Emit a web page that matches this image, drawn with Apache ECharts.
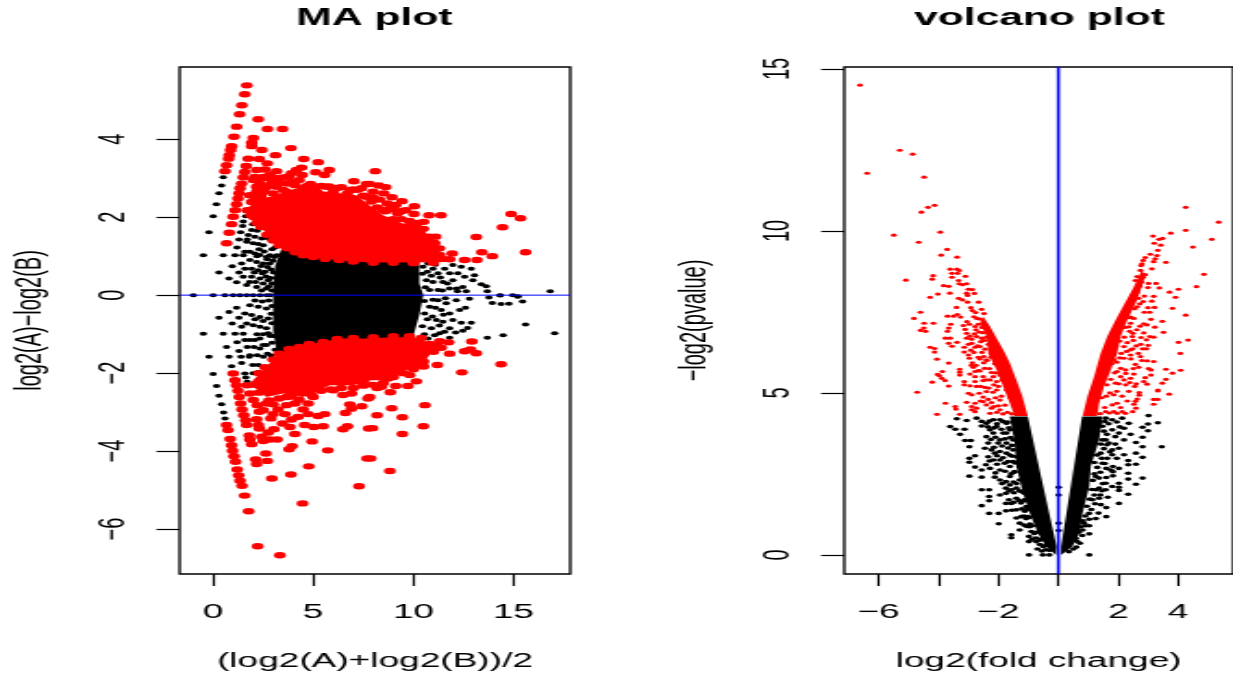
<!DOCTYPE html>
<html>
<head>
<meta charset="utf-8">
<title>MA plot and volcano plot</title>
<script src="https://cdn.jsdelivr.net/npm/echarts@6/dist/echarts.min.js"></script>
<style>
html,body{margin:0;padding:0;background:#fff;width:1233px;height:677px;overflow:hidden}
#stage{width:666px;height:677px;transform:scaleX(1.8514);transform-origin:0 0}
</style>
</head>
<body>
<div id="stage"></div>
<script>
const maXTicks=[0,5,10,15];
const maYTicks=[-6,-4,-2,0,2,4];
const vXTicks=[-6,-4,-2,0,2,4];
const vXLabels=[-6,-2,2,4];
const vYTicks=[0,5,10,15];
const maTitle='MA plot', vTitle='volcano plot';
const maXName='(log2(A)+log2(B))/2', maYName='log2(A)\u2212log2(B)';
const vXName='log2(fold change)', vYName='\u2212log2(pvalue)';

// dense cores, read as outlines
const maBlackCore=[[3.0,0.15],[3.1,.75],[3.5,1.3],[7.8,.9],[10.3,.9],[10.3,.3],[10.5,0],[10.3,-.5],[10,-1.05],[9,-1.2],[7.8,-1.15],[5.3,-1.25],[3.7,-1.45],[3.2,-1.55],[3.0,-.9],[3.0,-.15]];
const maRedTop=[[1.84,1.97],[1.84,2.26],[2.01,2.44],[2.84,2.52],[4.17,2.74],[5.66,2.65],[7.16,2.56],[7.82,2.3],[8.49,2.05],[9.48,1.84],[10.31,1.84],[10.65,1.58],[11.15,1.33],[11.4,1.03],[11.97,.94],[11.81,.85],[9.48,.84],[7.82,.84],[6.83,.87],[5.83,.92],[4.83,.98],[4,1.11],[3.5,1.28],[2.84,1.49],[2.43,1.71]];
const maRedBottom=[[1.93,-2.22],[2.67,-1.84],[3.17,-1.54],[3.67,-1.41],[4.5,-1.33],[5.33,-1.2],[6.49,-1.11],[7.82,-1.11],[8.82,-1.08],[9.98,-1.08],[10.48,-1.15],[11.06,-1.33],[10.81,-1.54],[10.31,-1.84],[9.65,-1.92],[8.65,-2.18],[7.82,-2.18],[7.82,-2.26],[6.83,-2.31],[5.83,-2.31],[5.17,-2.48],[4.5,-2.61],[3.5,-2.52],[2.67,-2.61],[1.93,-2.31]];
const vBlackLeft=[[-1.02,4.27],[-.06,.26],[-.08,0],[-.41,.26],[-.68,.67],[-.91,1.18],[-1.18,1.9],[-1.4,2.73],[-1.46,3.45],[-1.62,4.27]];
const vBlackRight=[[.79,4.27],[.09,.26],[.09,0],[.47,.26],[.7,.67],[.81,1.29],[1.03,2.11],[1.08,2.73],[1.36,3.55],[1.47,4.27]];
const vRedLeft=[[-1.02,4.29],[-1.2,4.89],[-1.4,5.4],[-1.62,5.92],[-1.84,6.33],[-2.06,6.69],[-2.28,7.05],[-2.51,7.36],[-2.62,7.15],[-2.39,6.74],[-2.34,6.22],[-2.06,5.71],[-1.84,5.19],[-1.62,4.68],[-1.46,4.29]];
const vRedRight=[[.81,4.29],[.97,4.89],[1.19,5.5],[1.41,6.22],[1.63,6.74],[1.91,7.25],[2.19,7.72],[2.52,8.28],[2.79,8.8],[2.9,8.59],[2.63,7.87],[2.3,7.25],[2.08,6.74],[1.96,6.22],[1.75,5.71],[1.52,5.19],[1.36,4.68],[1.3,4.29]];

const maBlack=[[.51,3.02],[.43,2.81],[.3,2.61],[.17,2.33],[.01,2.02],[-.2,1.61],[-.48,1.02],[.51,1.02],[1.1,1.02],[1.51,1.02],[.3,.58],[.8,.43],[.96,.74],[1.3,.58],[1.43,.81],[1.18,.33],[1.2,1.22],[1.3,1.43],[1.38,1.61],[1.48,1.77],[1.51,1.89],[1.63,2.02],[1.71,1.43],
[1.59,1.11],[1.84,1.11],[2.09,1.07],[2.34,1.03],[2.67,.98],[1.68,1.37],[2.01,1.33],[2.26,1.31],[2.51,1.28],[1.76,1.54],[2.09,1.5],[2.43,1.45],[2.76,1.45],[1.93,1.67],[2.21,1.65],[1.98,1.82],[2.26,1.79],[1.84,.9],[2.18,.85],[2.51,.81],[2.84,.81],[1.59,.68],[1.93,.68],[2.26,.64],[2.59,.6],[1.51,.47],[1.93,.47],[2.34,.43],[2.76,.38],[1.68,.26],[2.18,.21],[2.67,.17],
[2.95,1.18],[3.1,1.22],[2.85,1.02],[3.05,.98],[3.2,1.02],[2.7,.92],[3,.88],[2.72,.72],[2.9,.66],[3.02,.58],[2.46,.56],[2.65,.48],[2.88,.44],[2.95,.3],[2.5,.3],[2.78,.22],[2.95,.12],[2.42,.12],[2.12,.34],[1.82,.34],[2.06,.58],[2.4,.75],[2.2,1],[2.55,1.12],[2.3,1.18],
[-.98,0],[.01,0],[.6,0],[1.01,0],[1.35,0],[1.68,0],[2.01,0],[2.34,0],[2.67,0],[2.85,0],
[10.48,.73],[10.73,.81],[10.98,.68],[11.23,.56],[11.56,.68],[11.97,.77],[12.39,.73],[12.89,.68],[11.81,.56],[12.22,.56],[12.56,.47],[13.05,.51],[12.97,.38],[11.97,.38],[11.47,.34],[10.98,.34],[10.65,.38],[12.47,.21],[11.81,.17],[11.23,.13],[10.81,.13],[13.64,.23],[13.39,.28],[13.69,.1],[12.17,.17],[16.83,.1],[14.33,0],[14.96,0],[15.21,-.03],[13.77,-.06],[12.64,.1],[12.2,.1],[14.33,-.01],[15.21,-.04],[13.94,-.2],[14.38,-.23],[14.77,-.22],[15.45,-.16],[15.6,-.75],[17.05,-.98],[14.48,-1.03],[13.69,-1.09],[12.89,-.71],[12.8,-.09],[12.6,-.32],[12.31,-.38],[11.97,-.64],[12.39,-.71],[12.71,-.84],[12.47,-.91],[12.11,-.96],[11.81,-.85],[11.81,-1.09],[11.47,-.68],[11.56,-.94],[11.15,-.64],[10.9,-.85],[10.73,-1.11],[10.56,-.47],[10.81,-.3],[11.23,-.13],[11.64,-.21],[12.14,-.13],[11.39,-.38],[11.81,-.47],[11.06,-1.03],[11.31,-.98],
[10.45,.55],[10.6,.2],[10.7,.6],[10.9,.5],[11.1,.78],[11.35,.45],[11.7,.3],[10.55,-.15],[10.7,-.62],[10.45,-.8],[10.55,-1],[10.95,-.55],[11.1,-.32],[11.5,-.5],[11.3,-.78],[10.98,-.12],[11.45,.12],[11.6,-.08],
[.3,-.58],[.8,-.43],[1.3,-.58],[.96,-.73],[1.43,-.81],[1.18,-.32],[-.48,-.99],[.51,-.99],[1.1,-.99],[1.51,-.99],[.68,-1.33],[-.2,-1.58],[.8,-1.58],[1.4,-1.58],[1.81,-1.58],[.01,-2.02],[.18,-2.33],[.3,-2.58],[.43,-2.8],[.53,-3.01],[.6,-3.16],[.93,-1.82],[1.2,-1.21],[1.3,-1.43],[1.43,-1.74],[1.59,-2.01],[1.64,-2.11],[1.71,-2.22],[1.59,-1.15],[1.84,-1.15],[2.09,-1.15],[2.34,-1.11],[1.71,-1.33],[2.04,-1.33],[2.34,-1.37],[2.67,-1.28],[1.84,-1.54],[2.21,-1.54],[2.51,-1.58],[1.98,-1.79],[2.26,-1.79],[2.51,-1.84],[2,-2],[2.26,-1.97],[1.68,-.73],[2.01,-.77],[2.34,-.81],[2.67,-.85],[1.59,-.47],[1.93,-.51],[2.34,-.56],[2.76,-.6],[1.84,-.26],[2.26,-.3],[2.67,-.34],
[2.95,-1.22],[3.1,-1.4],[2.85,-1.05],[3.02,-1.05],[2.72,-1.5],[2.9,-1.55],[2.5,-1],[2.76,-.98],[2.95,-.72],[2.9,-.48],[2.5,-.66],[2.2,-1],[2.95,-.28],[2.46,-.16],[2.1,-.14],[2.78,-.14],[2.5,-1.28],[2.1,-.62]];

const maRed=[[1.69,5.38],[1.59,5.15],[1.44,4.87],[1.33,4.64],[1.18,4.32],[1.05,4.06],[.93,3.82],[.88,3.72],[.81,3.59],[.78,3.5],[.68,3.33],[.6,3.18],
[1.76,3.5],[1.66,3.31],[1.59,3.16],[1.51,3.02],[1.43,2.86],[1.35,2.74],[1.3,2.61],[1.25,2.48],[1.18,2.33],[1.11,2.18],[1.01,2.01],[.93,1.82],[.81,1.6],[.68,1.33],
[2.26,4.51],[2.72,4.26],[3.47,4.26],[2.01,4.03],[1.93,3.91],[1.93,3.82],[2.44,3.72],[3.89,3.77],[3.12,3.59],[2.31,3.49],[2.71,3.38],[4.53,3.49],[5.25,3.41],[3.17,3.18],[5.8,3.21],[5.13,3.15],[5.57,3.08],[4.42,3.27],[4.17,3.21],[3.92,3.13],[4.45,3.08],[2.18,3.21],[2.59,3.22],[3.5,3.02],[7.03,2.92],[4.87,2.85],[7.66,2.85],[6.41,2.77],[5.8,2.79],[6.99,2.71],[1.84,2.56],[1.71,2.18],
[2.01,2.95],[2.34,2.86],[2.84,3.08],[2.67,2.78],[3.17,2.78],[3.67,2.86],[4.5,2.74],[5.17,2.65],[5.66,2.78],[6,2.65],[6.41,2.48],[6.83,2.69],[7.41,2.74],[7.66,2.52],[2.18,2.65],[2.51,2.65],[3,2.61],[1.93,2.39],[2.18,2.78],[2.51,3.03],[2.09,3.03],[3.67,2.65],[4.09,2.82],
[2.3,2.7],[2.6,2.75],[2.9,2.85],[3.3,2.9],[3.5,2.7],[3.9,2.9],[4.3,2.95],[2.3,3],[2.7,3],[3,2.95],[3.2,3],[4.7,2.8],[5,2.75],[5.4,2.8],[6.2,2.75],[6.7,2.6],[7.2,2.7],[7.5,2.55],[8,2.5],[8.3,2.45],[8.7,2.35],[9,2.2],[9.4,2.15],[2.1,2.5],[1.95,2.2],[3.8,3.05],[2.4,2.55],
[1.9,2.05],[2.05,2],[2.2,1.85],[2.4,1.75],[2.7,1.55],[3,1.4],[3.3,1.28],[3.7,1.2],[4.1,1.1],[4.5,1.02],[5,.98],[5.6,.93],[6.3,.9],[7,.86],[8,.83],[9,.83],[10,.82],[11,.83],
[7.9,2.4],[8.2,2.25],[8.6,2.15],[9,1.95],[9.4,1.95],[9.8,1.9],[10.2,1.85],[10.5,1.7],[10.8,1.5],[11,1.35],[11.3,1.2],
[8.1,3.18],[7.82,2.85],[8.27,2.81],[8.62,2.77],[7.99,2.65],[8.52,2.61],[8.93,2.51],[9.43,2.41],[9.12,2.31],[10.05,2.28],[8.49,2.18],[8.82,2.21],[9.62,2.18],[9.22,2.1],[10.03,2.08],[10.78,2.05],[11.38,2.05],[10.51,1.88],[8.82,1.92],[11.11,1.5],[11.06,1.33],[13.14,1.49],[14.45,1.74],[14.88,2.08],[15.35,1.97],[15.6,1.1],[13.42,1.1],[13.94,1],[11.94,1.07],[11.31,1.03],[13.17,.9],[12.56,.9],[11.81,.92],
[1.01,-2.01],[1.1,-2.18],[1.18,-2.31],[1.25,-2.45],[1.31,-2.61],[1.38,-2.78],[1.45,-2.93],[1.54,-3.08],[1.64,-3.21],[1.68,-3.33],
[.68,-3.33],[.75,-3.46],[.86,-3.69],[.93,-3.85],[.98,-3.99],[1.05,-4.13],[1.13,-4.27],[1.21,-4.47],[1.28,-4.62],[1.35,-4.76],[1.45,-4.89],[1.58,-5.14],[1.78,-5.54],[2.23,-6.44],[3.34,-6.67],[4.47,-5.34],[7.29,-4.9],[2.94,-4.7],[3.89,-4.6],[4.78,-4.39],[2.18,-4.33],[2.13,-4.21],[2.71,-4.25],[2.64,-4.06],[3.8,-3.95],[3.95,-3.87],[5.73,-3.98],[4.95,-3.75],[1.93,-3.82],[1.84,-3.7],[1.81,-3.6],[2.43,-3.63],[2.51,-3.74],[2.84,-3.7],[3.2,-3.7],[2.76,-3.52],[3.04,-3.44],[4.09,-3.56],[3.47,-3.29],[3.84,-3.38],[2.26,-3.33],[2.31,-3.42],[2.18,-3.18],[2.89,-3.16],[4.58,-3.33],[5.03,-3.38],[5.5,-3.36],[6.49,-3.44],[6.71,-3.36],[7.77,-3.42],[7.69,-4.19],[3.92,-3.19],[4.25,-3.12],[4.75,-3.05],[5.25,-3.1],[5.58,-3.05],[6.61,-3.02],[6.83,-2.8],[6.91,-2.91],[7.42,-2.85],[7.74,-2.65],[4.75,-2.78],[4.5,-2.93],[3.67,-2.82],[3.67,-2.61],[4.09,-2.78],[3,-2.8],[3.25,-2.93],[3.59,-3.05],[3,-3.05],[2.21,-2.82],[2.31,-2.99],[2.01,-2.69],[1.84,-2.52],[1.71,-2.31],[2.67,-2.78],[2.51,-2.95],[5,-2.61],[6.91,-2.52],[6.49,-2.56],[6,-2.44],
[2.1,-2.3],[2.3,-2.5],[2.8,-2.7],[3.3,-2.65],[3.9,-2.6],[4.3,-2.68],[4.9,-2.55],[5.4,-2.45],[5.9,-2.42],[6.4,-2.38],[7,-2.38],[7.5,-2.32],[8,-2.3],[8.5,-2.25],[9,-2.1],[9.5,-2],[10,-1.9],[10.5,-1.7],[11,-1.45],[11.2,-1.3],[10.8,-1.25],
[2.3,-2],[2.6,-1.85],[3,-1.65],[3.3,-1.5],[3.8,-1.38],[4.3,-1.33],[4.8,-1.25],[5.5,-1.2],[6.2,-1.12],[7,-1.1],[8,-1.08],[9,-1.05],[9.8,-1.05],[10.4,-1.1],
[12.92,-1.19],[11.31,-1.18],[11.76,-1.21],[11.39,-1.35],[10.98,-1.39],[12.56,-1.44],[12.85,-1.39],[13.14,-1.49],[11.81,-1.5],[11.2,-1.79],[14.38,-1.77],[12.42,-1.98],[10.15,-2.21],[9.82,-2.05],[10.51,-1.83],[9.73,-2.33],[9.12,-2.33],[8.85,-2.49],[8.4,-2.35],[8.19,-2.38],[8.74,-2.14],[7.82,-2.61],[8.92,-2.9],[10.58,-2.82],[8.19,-3.08],[9.45,-3.13],[7.96,-3.41],[10.5,-3.36],[9.45,-3.56],[7.87,-4.19],[8.83,-4.51]];

const vBlack=[[-3.61,3.96],[-3.44,3.88],[-3.28,3.72],[-3.13,3.88],[-3.39,4.2],[-3.06,4.15],[-2.73,4.22],[-2.56,4.12],[-2.56,3.98],[-3.11,3.53],[-2.92,3.53],[-2.97,3.34],[-2.78,3.06],[-2.97,2.98],[-2.97,2.86],[-2.78,2.71],[-2.56,2.62],[-2.56,2.4],[-2.97,2.43],[-2.42,2.78],[-2.28,2.67],[-2.56,2.01],[-2.31,2.01],[-2.31,1.8],[-2.31,1.67],[-2.56,1.52],[-2.31,1.28],[-1.99,1.28],[-1.99,.96],[-1.57,.62],[-1.57,.53],[-1.29,.77],[-.98,.57],[-.98,.41],[-.74,.41],[-.98,0],[-.52,0],[-.3,0],[-2.17,3.76],[-2.4,3.65],[-2.34,3.45],[-2.45,3.29],[-2.12,3.14],[-1.95,2.93],[-1.95,2.62],[-2.12,2.4],[-1.95,2.31],[-1.75,2.26],[-1.75,2.06],[-1.75,1.9],[-1.57,2.01],[-1.95,1.85],[-1.75,1.59],[-1.57,1.59],[-1.4,1.75],[-1.75,1.36],[-1.4,1.39],[-1.24,1.18],[-1.29,.98],[-1.07,1.49],[-2.17,4.17],[-1.95,4.17],[-1.73,4.06],[-2.06,3.96],[-1.84,3.76],[-1.62,3.86],[-1.95,3.55],[-1.73,3.45],[-2.23,3.24],[-2.01,3.45],[-1.73,3.14],[-1.51,3.24],[-1.79,2.83],[-1.62,2.73],[-1.46,2.57],[-1.62,2.42],[-1.29,2.31],[-1.4,2.06],[-1.13,1.9],[-1.13,1.7],[-1.02,1.18],[-.96,.87],[-2.17,2.93],[-2.34,3.03],[-2.4,4.06],[-2.28,3.86],[-1.73,3.76],[-1.51,3.55],[-1.4,3.03],[-1.95,3.19],[-1.51,2.88],[-1.29,2.73],
[-1.7,4.1],[-1.85,4.12],[-2.05,4.05],[-2.3,4.13],[-1.65,3.92],[-1.9,3.88],[-2.15,3.92],[-2.35,3.95],[-1.6,3.62],[-1.78,3.58],[-2.1,3.63],[-2.25,3.56],[-1.55,3.38],[-1.68,3.3],[-1.88,3.36],[-2.15,3.32],[-1.55,3.05],[-1.62,3.08],[-1.85,3],[-2.05,3.06],[-1.45,2.84],[-1.68,2.88],[-2.05,2.8],[-2.3,2.9],[-1.48,2.55],[-1.58,2.5],[-1.78,2.58],[-2.1,2.53],[-1.4,2.2],[-1.5,2.25],[-1.62,2.16],[-1.88,2.2],[-1.22,1.95],[-1.3,1.98],[-1.48,1.92],[-1.65,1.97],[-1.2,1.65],[-1.25,1.6],[-1.32,1.68],[-1.5,1.62],[-1.65,1.7],[-1.05,1.4],[-1.12,1.35],[-1.22,1.42],[-1.55,1.38],[-1,1.15],[-1.08,1.12],[-1.15,1.2],[-1.4,1.14],[-.88,.9],[-.95,.95],[-1.05,.88],[-1.15,.92],[-.72,.7],[-.8,.66],[-.9,.72],[-.55,.5],[-.62,.45],[-.75,.52],[-.88,.48],[-.42,.3],[-.5,.26],[-.62,.32],[-.3,.14],[-.42,.16],[-.55,.12],[-.7,.18],
[3.45,3.34],[3.32,4.08],[3.01,4.3],[2.99,4.04],[2.81,3.94],[2.99,3.83],[2.81,3.63],[2.59,3.47],[2.59,3.14],[2.81,3.34],[2.81,3.01],[2.59,2.8],[2.33,2.91],[2.33,2.78],[2.33,2.52],[2.33,2.34],[2.81,2.37],[2.59,2.18],[2.02,2.21],[2.02,2.09],[2.02,1.99],[2.33,1.87],[2.02,1.59],[1.6,1.46],[1.6,1.18],[1.34,1.29],[1.03,1.1],[1.03,.9],[1.03,.65],[1.03,0],[.58,.51],[1.6,2.39],[1.82,2.57],[1.82,2.44],[1.82,2.73],[1.6,2.67],[1.58,2.21],[1.36,2.37],[1.8,2.11],[1.36,2.06],[1.58,2.01],[2.02,3.29],[1.8,3.24],[2.19,3.55],[2.41,3.72],[2.02,3.76],[2.19,3.91],[2.35,4.06],[1.8,3.86],[1.58,4.22],[1.8,4.17],[2.13,4.22],[1.47,3.97],[1.47,3.55],[1.69,3.45],[1.41,3.14],[1.8,3.09],[1.63,2.98],[2.19,3.09],[2.02,2.67],[1.47,2.83],[1.25,2.42],[1.25,2.01],[1.36,1.75],[1.14,1.7],[.86,.98],[.81,.77],[.75,.87],[1.25,3.76],[1.36,4.06],
[1.55,4.12],[1.68,4.05],[1.95,4.1],[2.05,3.95],[1.52,3.82],[1.62,3.72],[1.9,3.65],[1.58,3.55],[1.42,3.42],[1.52,3.28],[1.62,3.4],[1.9,3.42],[1.3,3.08],[1.45,2.98],[1.72,3.18],[1.95,2.98],[1.2,2.85],[1.3,2.7],[1.4,2.55],[1.55,2.82],[1.75,2.62],[1.2,2.5],[1.15,2.3],[1.48,2.2],[1.45,1.98],[1.12,2.02],[1.2,1.85],[1.4,1.85],[1.65,1.78],[1.05,1.72],[1.22,1.58],[1.42,1.55],[.95,1.5],[1.1,1.4],[1.25,1.12],[.9,1.2],[1.02,1.28],[.82,1.05],[.9,.9],[.68,.7],[.8,.6],[.62,.42],[.72,.36],[.5,.18],[.6,.24],[.35,.1],
[.01,2.09],[.01,1.85],[.01,.98],[.01,.75]];

const vRed=[[-6.62,14.5],[-5.29,12.49],[-4.86,12.37],[-6.38,11.78],[-4.48,11.66],[-4.13,10.79],[-4.35,10.73],[-4.57,10.58],[-5.49,9.87],[-3.94,9.96],[-4.66,9.65],[-3.71,9.43],[-3.91,9.25],[-3.38,9.19],[-3.61,8.82],[-3.39,8.82],[-3.31,8.78],[-3.55,8.69],[-3.36,8.69],[-3.1,8.6],[-4.18,8.62],[-4.21,8.51],[-3.55,8.57],[-3.33,8.47],[-5.09,8.48],[-3.31,8.37],[-3.2,8.34],[-3.06,8.37],[-3.83,8.31],[-3.66,8.29],[-3,8.2],[-2.87,8.19],[-3.06,8.08],[-2.8,8.07],[-3.03,8.01],[-4.02,8.05],[-3.62,8.08],[-4.28,7.95],[-3.33,7.92],[-3.2,7.87],[-3.03,7.8],[-2.66,7.8],[-3.4,7.64],[-2.92,7.63],[-2.56,7.58],[-2.87,7.54],[-2.76,7.48],[-4.6,7.49],[-2.48,7.45],[-3.37,7.42],[-3.7,7.37],[-3.5,7.37],[-3.26,7.34],[-4.82,7.3],[-3.05,7.2],[-4.48,7.15],[-4.17,7.15],[-3.59,7.12],[-2.97,7.12],[-2.67,7.12],[-3.17,7.08],[-4.49,7],[-4.6,6.93],[-4.43,6.9],[-3.66,7],[-3.7,6.9],[-3.11,6.96],[-3.06,6.84],[-2.8,6.82],[-2.53,6.86],[-3.77,6.69],[-3.61,6.69],[-3.06,6.69],[-2.89,6.66],[-2.73,6.74],[-2.59,6.58],[-3.66,6.53],[-3.38,6.56],[-2.89,6.53],[-3.55,6.44],[-3.14,6.41],[-2.78,6.41],[-2.62,6.43],[-4.28,6.41],[-4.13,6.37],[-4.13,6.26],[-3.14,6.26],[-3,6.17],[-2.67,6.1],[-4.05,6.04],[-2.49,6.12],[-2.97,6.07],[-3.66,5.92],[-2.87,5.93],[-2.49,5.93],[-2.84,5.79],[-3.29,5.73],[-2.46,5.76],[-3.87,5.66],[-3.29,5.64],[-2.67,5.69],[-2.78,5.66],[-4.03,5.57],[-3.97,5.53],[-3.29,5.55],[-2.95,5.58],[-2.23,5.63],[-2.78,5.5],[-2.51,5.5],[-3.89,5.45],[-3.78,5.38],[-4.21,5.33],[-3.14,5.35],[-2.78,5.35],[-2.51,5.38],[-2.28,5.4],[-3.66,5.21],[-3.14,5.25],[-2.95,5.22],[-2.73,5.2],[-2.45,5.17],[-2.06,5.35],[-4.71,5.02],[-3,4.99],[-2.89,4.94],[-2.64,4.99],[-2.4,5.04],[-2.06,5.09],[-2.51,4.87],[-2.34,4.8],[-3.77,4.68],[-3.06,4.71],[-2.78,4.68],[-2.51,4.73],[-2.23,4.7],[-3.44,4.58],[-3.42,4.5],[-2.89,4.58],[-2.4,4.63],[-2.73,4.53],[-2.23,4.53],[-2.89,4.48],[-2.78,4.42],[-4.05,4.34],[-3.29,4.34],[-2.28,4.37],[-1.95,4.48],[-1.95,4.78],[-1.73,5.09],[-2.17,5.5],[-2.4,6.02],[-2.56,6.69],[-2.78,7.05],
[-1.55,4.35],[-1.7,4.4],[-1.85,4.35],[-2.05,4.4],[-1.6,4.85],[-1.78,4.62],[-1.9,4.9],[-2.1,4.85],[-2.18,5.02],[-1.72,5.22],[-1.88,5.4],[-2,5.2],[-2.15,5.25],[-2.32,5.15],[-2.42,5.4],[-1.95,5.55],[-2.1,5.62],[-2.3,5.75],[-2.12,5.9],[-1.98,5.98],[-2.25,6.1],[-2.38,6],[-2.15,6.3],[-2.05,6.42],[-2.45,6.35],[-2.33,6.5],[-2.55,6.25],[-2.62,6.05],[-2.2,6.6],[-2.4,6.72],[-2.48,6.62],[-2.65,6.88],[-2.75,6.95],[-2.55,7.02],[-2.4,7],[-2.62,7.28],[-2.72,7.3],[-2.82,7.35],[-2.7,6.45],[-2.82,6.25],[-2.92,6.32],[-2.62,5.68],[-2.75,5.85],[-2.9,5.85],[-2.95,6.75],[-3,6.5],[-2.6,5.2],[-2.6,4.75],[-2.15,4.58],[-2,4.6],
[4.25,10.73],[5.35,10.27],[4.25,10.02],[3.75,9.93],[3.16,9.84],[5.12,9.74],[3.48,9.77],[3.36,9.74],[3.2,9.62],[3.42,9.56],[4.49,9.5],[3.32,9.4],[3.07,9.28],[3.29,9.24],[2.9,9.18],[3.23,9.14],[2.83,9.09],[3.18,9.05],[3.59,9.03],[2.79,8.98],[2.76,8.93],[3.12,8.83],[2.74,8.78],[4.86,8.66],[2.63,8.59],[2.83,8.57],[2.57,8.47],[3.01,8.38],[3.26,8.38],[2.99,8.25],[3.37,8.24],[4.61,8.28],[4.01,8.2],[3.71,8.11],[2.87,7.99],[3.18,7.98],[3.91,7.95],[2.68,7.92],[3.12,7.83],[2.83,7.82],[2.99,7.63],[3.21,7.64],[3.81,7.61],[2.63,7.66],[2.87,7.49],[3.05,7.49],[4.25,7.4],[3.09,7.27],[3.47,7.21],[2.41,7.34],[2.52,7.3],[2.85,7.13],[2.73,7.06],[2.96,7.1],[3.22,7.03],[2.41,7.15],[3.51,6.87],[2.49,6.84],[2.47,6.74],[2.76,6.71],[3.05,6.74],[3.18,6.72],[2.94,6.64],[4.33,6.63],[4.01,6.56],[3,6.47],[2.48,6.36],[2.81,6.36],[2.94,6.36],[2.67,6.22],[4.07,6.22],[2.74,6.12],[2.79,6],[2.41,6.17],[2.96,5.99],[3.18,5.97],[2.57,5.88],[2.68,5.79],[3.01,5.75],[3.09,5.71],[3.59,5.73],[4.08,5.7],[3.81,5.61],[2.52,5.58],[3.09,5.55],[2.41,5.45],[2.9,5.47],[3.59,5.42],[2.85,5.35],[2.38,5.32],[2.6,5.28],[2.96,5.27],[3.47,5.3],[3.32,5.09],[3.32,5.06],[3.7,4.96],[2.7,5.01],[2.7,4.93],[2.13,4.9],[2.63,4.81],[3.18,4.8],[3.32,4.8],[2.57,4.74],[2.52,4.65],[3.18,4.65],[2.59,4.53],[2.48,4.42],[2.08,4.55],[2.13,4.42],[1.96,4.37],[2.24,4.37],[1.8,4.63],[1.85,4.94],[1.96,4.68],[1.58,4.42],[2.19,5.4],[2.08,5.5],[1.96,5.66],[2.08,5.76],[2.24,5.71],[1.91,5.3],[1.85,6.02],[2.19,6.07],[2.41,6.33],[2.19,6.43],[2.35,7.04],
[1.4,4.36],[1.55,4.55],[1.7,4.38],[1.85,4.42],[1.45,4.85],[1.6,4.9],[1.72,5],[1.95,5.05],[1.62,5.25],[1.75,5.42],[1.88,5.62],[2.02,5.28],[1.78,5.9],[1.95,5.95],[2.05,6.08],[2.1,6.22],[2.28,6.28],[1.92,6.45],[2.05,6.6],[2.2,6.72],[2.3,6.55],[2.5,6.62],[2.38,6.9],[2.22,7.02],[2.38,7.32],[2.55,7.6],[2.45,7.75],[2.72,7.75],[2.62,8.1],[2.72,8.3],[2.78,8.42],[2.5,7.95],[2.9,8.65],[2.35,5.05],[2.25,5.6],[2.55,5.2],[2.3,4.75],[2.75,6.5],[2.62,6.95],[2.85,6.85],[2.42,6.05],[2.6,6.45],[2.5,5.75],[2.25,5.25]];

const maZeroLine=[[-1.665,0],[17.83,0]];
const vZeroLine=[[0,-.59],[0,15.06]];

const FONT='Liberation Sans';
function poly(gridIndex,pts,color,z){
  return {type:'custom',xAxisIndex:gridIndex,yAxisIndex:gridIndex,silent:true,z:z,clip:true,data:pts,
    encode:{x:0,y:1},
    renderItem:function(params,api){
      if(params.dataIndex!==0) return null;
      return {type:'polygon',shape:{points:pts.map(function(p){return api.coord(p);})},style:{fill:color}};
    }};
}
function dots(gridIndex,pts,color,size,z){
  return {type:'scatter',xAxisIndex:gridIndex,yAxisIndex:gridIndex,silent:true,z:z,data:pts,symbol:'circle',symbolSize:size,itemStyle:{color:color,opacity:1},animation:false};
}
function zero(gridIndex,pts,w,z){
  return {type:'line',xAxisIndex:gridIndex,yAxisIndex:gridIndex,silent:true,z:z,data:pts,symbol:'none',lineStyle:{color:'#0000ff',width:w},animation:false};
}
function xAx(gridIndex,min,max,ticks,labels,name){
  return {type:'value',gridIndex:gridIndex,min:min,max:max,splitLine:{show:false},axisLine:{show:false,onZero:false},
    axisTick:{show:true,length:12,inside:false,customValues:ticks,lineStyle:{color:'#000',width:1.2}},
    axisLabel:{show:true,customValues:labels,margin:28,fontFamily:FONT,fontSize:20,color:'#000',hideOverlap:false,
      showMinLabel:true,showMaxLabel:true,formatter:function(v){return String(v).replace('-','\u2212');}},
    name:name,nameLocation:'middle',nameGap:77,nameTextStyle:{fontFamily:FONT,fontSize:20,color:'#000'}};
}
function yAx(gridIndex,min,max,ticks,name){
  return {type:'value',gridIndex:gridIndex,min:min,max:max,splitLine:{show:false},axisLine:{show:false,onZero:false},
    axisTick:{show:true,length:12.5,customValues:ticks,lineStyle:{color:'#000',width:1.2}},
    axisLabel:{show:true,customValues:ticks,rotate:90,margin:26,fontFamily:FONT,fontSize:20,color:'#000',hideOverlap:false,
      formatter:function(v){return String(v).replace('-','\u2212');}},
    name:name,nameLocation:'middle',nameGap:71,nameRotate:90,nameTextStyle:{fontFamily:FONT,fontSize:20,color:'#000'}};
}
const chart=echarts.init(document.getElementById('stage'),null,{renderer:'canvas',width:666,height:677});
chart.setOption({
  animation:false,backgroundColor:'#fff',tooltip:{show:false},
  title:[
    {text:maTitle,left:197.2,top:2,textAlign:'center',textStyle:{fontFamily:FONT,fontSize:23,fontWeight:'bold',color:'#000'}},
    {text:vTitle,left:556.4,top:2,textAlign:'center',textStyle:{fontFamily:FONT,fontSize:23,fontWeight:'bold',color:'#000'}}
  ],
  grid:[
    {left:97,top:67,width:211,height:507,show:true,borderColor:'#000',borderWidth:1.3,backgroundColor:'#fff'},
    {left:456,top:67,width:211,height:507,show:true,borderColor:'#000',borderWidth:1.3,backgroundColor:'#fff'}
  ],
  xAxis:[xAx(0,-1.665,17.83,maXTicks,maXTicks,maXName),xAx(1,-7.145,5.83,vXTicks,vXLabels,vXName)],
  yAxis:[yAx(0,-7.15,5.85,maYTicks,maYName),yAx(1,-.59,15.06,vYTicks,vYName)],
  series:[
    poly(0,maBlackCore,'#000',2),
    dots(0,maBlack,'#000',4,3),
    poly(0,maRedTop,'#ff0000',4),
    poly(0,maRedBottom,'#ff0000',4),
    dots(0,maRed,'#ff0000',6.4,5),
    zero(0,maZeroLine,1,6),
    poly(1,vBlackLeft,'#000',2),
    poly(1,vBlackRight,'#000',2),
    dots(1,vBlack,'#000',3.6,3),
    poly(1,vRedLeft,'#ff0000',4),
    poly(1,vRedRight,'#ff0000',4),
    dots(1,vRed,'#ff0000',3.2,5),
    zero(1,vZeroLine,1.6,6)
  ]
});
</script>
</body>
</html>
